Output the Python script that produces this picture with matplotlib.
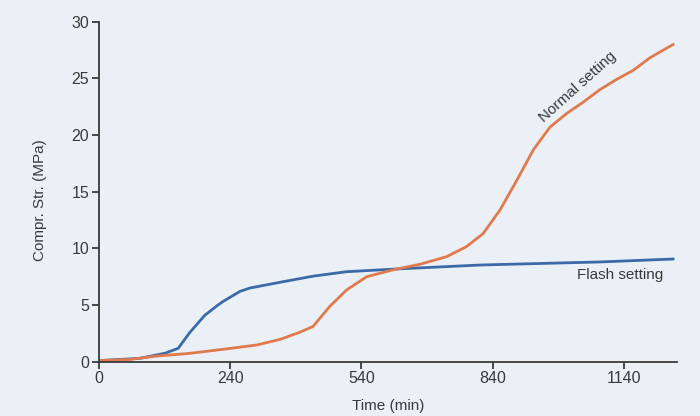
import matplotlib
matplotlib.use("Agg")
import matplotlib.pyplot as plt

# time axis (min); the "0" tick sits at -60 on a linear scale
flash_t = [-60, 34, 72, 91, 121, 148, 182, 212, 223, 262, 285, 361, 430, 506, 620, 811, 1085, 1253]
flash_y = [0.1, 0.3, 0.6, 0.75, 1.18, 2.6, 4.1, 5.0, 5.3, 6.2, 6.5, 7.06, 7.55, 7.94, 8.18, 8.53, 8.8, 9.06]

normal_t = [-60, 11, 72, 148, 223, 300, 354, 399, 429, 468, 506, 552, 612, 674, 735, 780, 818,
            857, 895, 933, 971, 1009, 1047, 1085, 1123, 1161, 1199, 1253]
normal_y = [0.1, 0.2, 0.5, 0.74, 1.09, 1.47, 1.97, 2.6, 3.1, 4.9, 6.33, 7.5, 8.1, 8.6, 9.27, 10.15, 11.3,
            13.4, 16.0, 18.7, 20.7, 21.9, 22.9, 24.0, 24.9, 25.7, 26.8, 28.0]

tick_pos = [-60, 240, 540, 840, 1140]
tick_labels = ["0", "240", "540", "840", "1140"]
y_ticks = [0, 5, 10, 15, 20, 25, 30]

bg = "#ebeff6"
ink = "#3a3a3a"

plt.rcParams["font.family"] = ["Liberation Sans", "DejaVu Sans"]

fig = plt.figure(figsize=(7, 4.16), dpi=100, facecolor=bg)
ax = fig.add_axes([0.1414, 0.1305, 0.8256, 0.8175])
ax.set_facecolor(bg)

ax.plot(flash_t, flash_y, color="#3b6aa8", lw=2.0, solid_capstyle="round")
ax.plot(normal_t, normal_y, color="#e07a4e", lw=2.0, solid_capstyle="round")

ax.set_xlim(-60, 1261)
ax.set_ylim(0, 30)
ax.set_xticks(tick_pos)
ax.set_xticklabels(tick_labels)
ax.set_yticks(y_ticks)

for s in ["top", "right"]:
    ax.spines[s].set_visible(False)
for s in ["left", "bottom"]:
    ax.spines[s].set_color(ink)
    ax.spines[s].set_linewidth(1.3)

ax.tick_params(axis="both", direction="out", length=5, width=1.3, color=ink,
               labelsize=11.5, labelcolor=ink, pad=2)

ax.set_xlabel("Time (min)", fontsize=11, color=ink, labelpad=9)
ax.set_ylabel("Compr. Str. (MPa)", fontsize=11, color=ink)
ax.yaxis.set_label_coords(-0.09, 0.475)

ax.text(1131, 7.65, "Flash setting", fontsize=11, color=ink, ha="center", va="center")
ax.text(1034, 24.2, "Normal setting", fontsize=11, color=ink, ha="center", va="center",
        rotation=42, rotation_mode="anchor")

fig.savefig("out.png", dpi=100, facecolor=bg)
